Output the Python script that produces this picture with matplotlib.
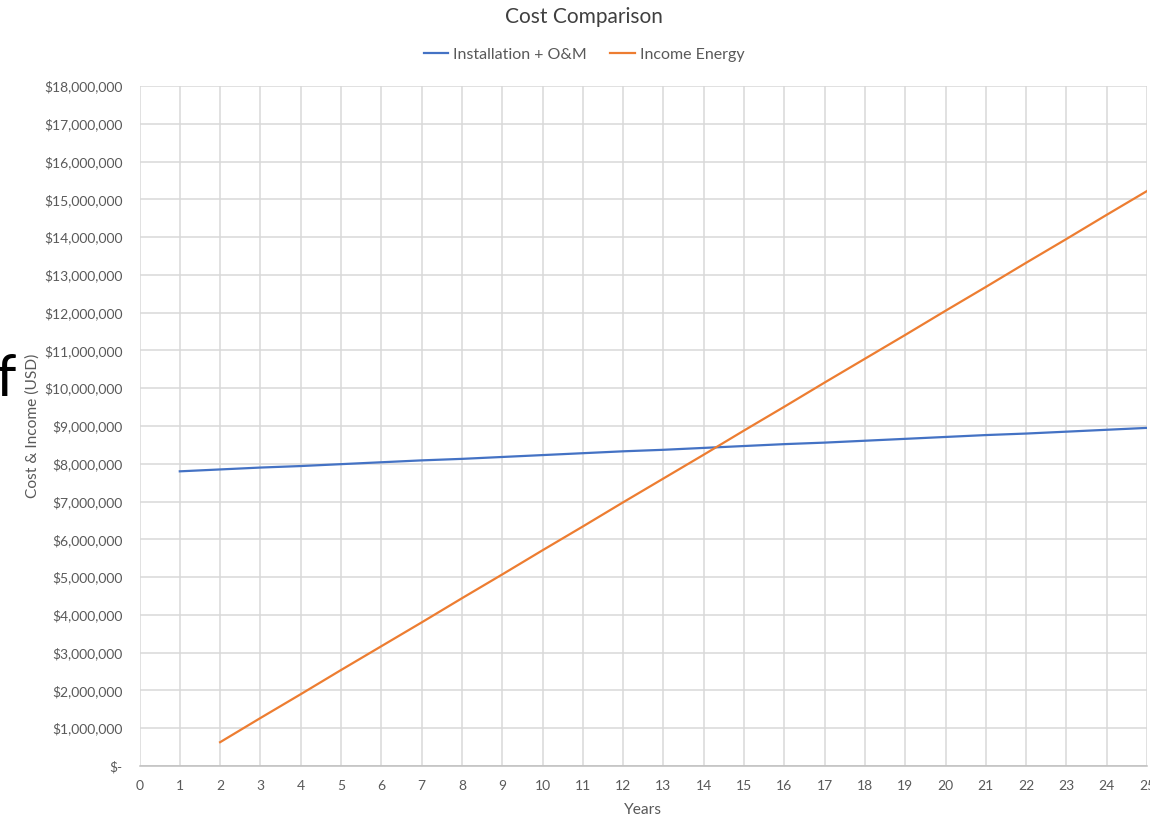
import matplotlib.pyplot as plt
from matplotlib.ticker import FuncFormatter

plt.rcParams["font.family"] = ["Lato", "DejaVu Sans"]

# yearly totals in USD millions
cost_years = list(range(1, 26))
install_om = [7.80, 7.85, 7.90, 7.94, 7.99, 8.04, 8.09, 8.13, 8.18, 8.23,
              8.28, 8.33, 8.37, 8.42, 8.47, 8.52, 8.56, 8.61, 8.66, 8.71,
              8.76, 8.80, 8.85, 8.90, 8.95]

income_years = list(range(2, 26))
income_energy = [0.63, 1.27, 1.90, 2.54, 3.17, 3.80, 4.44, 5.07, 5.71, 6.34,
                 6.98, 7.61, 8.24, 8.88, 9.51, 10.15, 10.78, 11.41, 12.05, 12.68,
                 13.32, 13.95, 14.59, 15.22]

x_ticks = list(range(0, 26))
y_ticks = list(range(0, 19))

BLUE = "#4472C4"
ORANGE = "#ED7D31"
TEXT = "#595959"
GRID = "#d9d9d9"


def money(v, _pos):
    if v == 0:
        return "$-"
    return "${:,.0f}".format(v * 1_000_000)


fig = plt.figure(figsize=(11.5, 8.17), dpi=100)
ax = fig.add_axes([139.5 / 1150, 51 / 817, (1147 - 139.5) / 1150, 680 / 817])

ax.plot(cost_years, install_om, color=BLUE, linewidth=1.6, label="Installation + O&M")
ax.plot(income_years, income_energy, color=ORANGE, linewidth=1.6, label="Income Energy")

ax.set_xlim(0, 25)
ax.set_ylim(0, 18)
ax.set_xticks(x_ticks)
ax.set_yticks(y_ticks)
ax.yaxis.set_major_formatter(FuncFormatter(money))
ax.grid(True, color=GRID, linewidth=1.1)
ax.set_axisbelow(True)
for side in ("top", "right", "left"):
    ax.spines[side].set_visible(False)
ax.spines["bottom"].set_color("#bfbfbf")
ax.spines["bottom"].set_linewidth(1.1)
ax.tick_params(length=0, labelsize=10, labelcolor=TEXT, pad=10)
ax.tick_params(axis="y", pad=12)

ax.set_xlabel("Years", fontsize=11.2, color=TEXT, va="center")
ax.set_ylabel("Cost & Income (USD)", fontsize=11.2, color=TEXT, va="center")
ax.xaxis.set_label_coords(0.5, -44 / 680)
ax.yaxis.set_label_coords(-106.5 / 1007.5, 0.5)

fig.text(584 / 1150, 1 - 17 / 817, "Cost Comparison", ha="center", va="center",
         fontsize=15, color="#404040")
fig.legend(loc="center", bbox_to_anchor=(584 / 1150, 1 - 55 / 817), ncol=2,
           frameon=False, fontsize=11.5, labelcolor=TEXT, handlelength=1.55,
           handletextpad=0.3, columnspacing=1.45)

# stray glyph at the left margin
fig.text(-0.004, 1 - 379 / 817, "f", ha="left", va="center", fontsize=42, color="black")

fig.savefig("out.png", dpi=100)
